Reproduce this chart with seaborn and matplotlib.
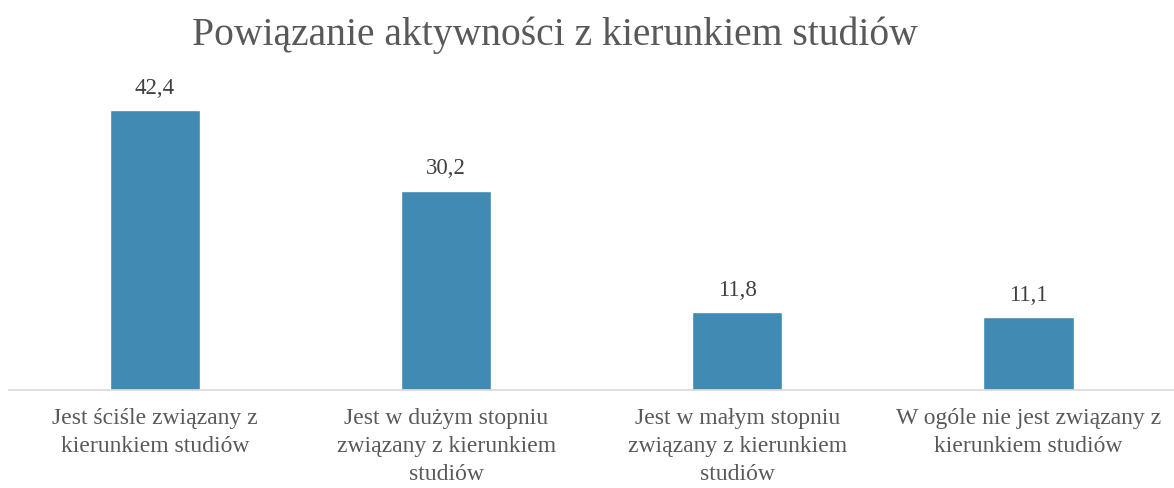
import matplotlib
matplotlib.use("Agg")
import matplotlib.pyplot as plt
import seaborn as sns
import pandas as pd

categories = [
    "Jest ściśle związany z\nkierunkiem studiów",
    "Jest w dużym stopniu\nzwiązany z kierunkiem\nstudiów",
    "Jest w małym stopniu\nzwiązany z kierunkiem\nstudiów",
    "W ogóle nie jest związany z\nkierunkiem studiów",
]
values = [42.4, 30.2, 11.8, 11.1]
title = "Powiązanie aktywności z kierunkiem studiów"

sns.set_theme(style="white")
plt.rcParams["font.family"] = ["Liberation Serif", "DejaVu Serif"]

df = pd.DataFrame({"cat": categories, "val": values})

fig = plt.figure(figsize=(11.74, 4.88), dpi=100)
ax = fig.add_axes([0.008, 0.2008, 0.992, 0.609])
sns.barplot(data=df, x="cat", y="val", color="#418AB3", saturation=1, width=0.31, ax=ax)

ax.set_ylim(0, 45)
ax.set_xlim(-0.5, 3.5)
ax.set_xlabel("")
ax.set_ylabel("")
ax.set_yticks([])
for s in ["top", "right", "left"]:
    ax.spines[s].set_visible(False)
ax.spines["bottom"].set_color("#D9D9D9")
ax.spines["bottom"].set_linewidth(1.2)
ax.tick_params(axis="x", length=0, pad=13, labelsize=17, labelcolor="#595959")
for lbl in ax.get_xticklabels():
    lbl.set_linespacing(1.45)

ax.bar_label(ax.containers[0], labels=[f"{v:.1f}".replace(".", ",") for v in values],
             padding=8, fontsize=16.5, color="#404040")

fig.text(0.473, 0.928, title, ha="center", va="center", fontsize=28.5, color="#595959")

fig.savefig("out.png", dpi=100)
